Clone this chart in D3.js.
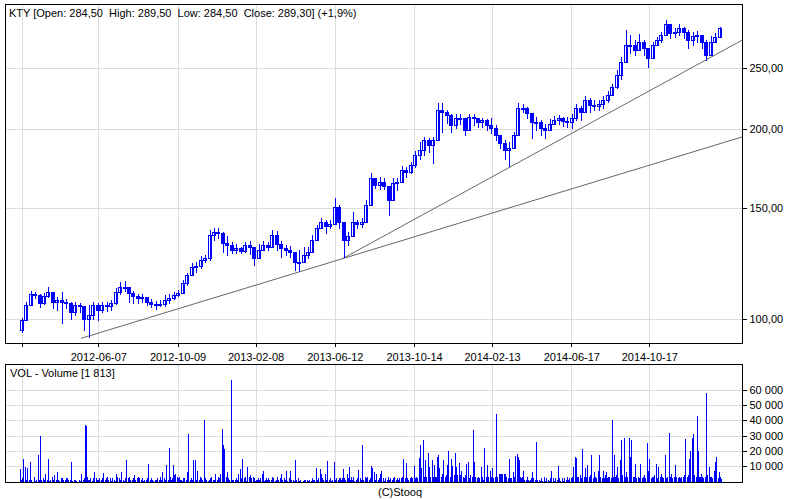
<!DOCTYPE html>
<html><head><meta charset="utf-8">
<script src="https://cdn.jsdelivr.net/npm/d3@7"></script>
<style>
body{margin:0;background:#fff}
text{font-family:"Liberation Sans",Arial,sans-serif;font-size:11px;fill:#000}
</style>
</head><body><svg id="c" width="800" height="500"></svg>
<script>
// ---- data (weekly candles) ----
const ticker = "KTY";
const firstOpen = 96.2;
const closes = [99.7,105.3,109.8,109.3,106.1,108.9,110.5,106.5,107.3,106.5,106.1,102.7,105.3,104.9,100.2,101.6,105.3,103.5,105.3,104.9,
106.1,110.5,112.5,112.5,110.1,108.9,108.1,108.5,106.5,105.7,105.3,105.7,107.3,108.1,109.3,110.1,114.2,117.5,121.0,121.5,
124.1,125.0,136.0,137.4,136.9,132.0,131.1,128.7,129.7,128.2,131.1,130.1,125.0,128.7,131.1,130.1,136.0,131.6,129.7,128.7,
127.8,123.2,123.2,126.4,127.8,133.5,139.4,142.6,140.5,141.5,150.6,142.6,133.5,135.5,142.6,141.5,142.6,151.7,167.3,163.1,
164.9,162.6,154.4,164.3,164.9,172.3,171.0,175.5,182.0,185.3,192.2,188.7,192.2,214.4,212.9,210.5,203.0,208.2,208.2,199.3,
209.0,208.2,205.2,206.7,203.0,200.8,195.7,190.1,185.3,186.7,195.7,216.0,216.0,212.0,205.2,205.2,200.8,199.3,203.7,206.7,
208.2,206.0,205.2,208.2,216.0,212.9,222.3,218.3,217.6,219.1,222.3,226.4,233.2,243.5,255.4,271.7,271.7,266.8,274.7,268.8,
259.1,271.7,276.7,281.8,293.3,283.8,284.9,289.0,284.9,276.7,280.7,281.8,274.7,262.0,274.7,279.7,289.3];
const highs = [100.5,106.5,110.9,110.5,109.8,110.1,112.5,109.3,108.5,110.5,107.7,106.5,106.5,106.1,103.5,105.3,106.5,106.1,106.5,106.5,
107.3,112.1,114.6,115.0,112.1,110.9,109.7,109.7,108.5,107.7,106.9,107.3,109.3,109.7,110.5,111.3,115.4,118.4,122.8,123.2,
125.9,126.4,138.4,139.4,139.4,137.4,135.5,132.5,131.6,130.1,132.5,133.0,129.7,131.6,133.0,132.5,138.4,137.9,133.0,131.1,
130.6,127.8,128.7,130.1,130.1,136.0,141.0,144.6,143.6,143.6,155.5,151.7,142.6,137.4,147.8,143.6,144.6,154.4,170.4,167.3,
167.9,167.3,161.9,167.3,167.3,174.8,174.2,177.4,184.6,190.5,194.3,193.6,194.3,220.0,220.0,214.4,211.3,211.3,211.3,206.7,
211.3,211.3,208.2,208.2,207.5,208.2,203.0,194.3,192.2,190.8,197.9,220.0,219.1,216.8,210.5,209.0,206.7,203.7,207.5,209.8,
210.5,209.0,209.0,211.3,219.1,217.6,225.6,223.9,222.3,222.3,225.6,229.8,235.7,248.0,260.0,286.9,281.8,276.7,282.8,276.7,
268.8,274.7,279.8,284.9,297.6,292.2,289.0,293.3,290.1,286.9,284.9,285.9,281.8,276.7,280.7,283.8,290.0];
const lows = [95.5,100.2,106.1,107.9,104.6,105.7,108.5,104.2,103.5,98.8,104.2,100.2,101.6,102.7,96.2,93.8,100.2,99.7,102.7,103.1,
103.5,105.7,109.7,110.9,106.5,106.1,106.1,106.5,105.3,104.6,103.9,104.9,104.9,106.1,107.7,108.9,110.1,113.3,117.5,118.8,
120.6,123.2,124.1,133.5,134.5,127.8,126.4,127.3,127.3,127.3,127.8,126.9,121.9,125.0,128.7,128.7,130.1,128.7,125.5,126.4,
125.5,119.7,119.3,123.2,125.0,129.2,133.5,140.0,136.9,139.4,142.1,139.4,125.5,131.1,135.5,139.4,140.0,142.6,153.3,161.4,
160.8,160.8,146.2,159.0,160.2,166.1,168.0,170.4,174.2,179.4,182.0,184.0,176.8,200.8,197.9,204.5,197.9,200.8,203.7,195.7,
203.7,203.0,201.5,201.5,199.3,197.2,192.2,186.7,179.4,174.8,188.7,199.3,212.9,208.2,193.6,199.3,195.7,193.6,199.3,203.7,
203.7,202.2,201.5,200.8,206.7,206.7,217.6,212.9,214.4,214.4,216.0,220.7,226.4,232.3,240.1,259.1,263.9,262.0,266.8,262.0,
250.8,260.1,271.7,274.7,284.9,278.7,279.7,281.8,278.7,268.8,271.7,274.7,268.8,257.2,270.7,274.7,280.7];
// daily volume (thousands of shares), Mon..Fri for each week
const volumesK = [
[8,1,2,1,15],[2,9.5,1,8.5,5.6],[1,12.6,0.5,1,0],[1,3,0.5,1,0.5],[17,1,30,4,1],[1,2,1,0.5,5],[1,14.6,1,0.5,1],[3,0.5,1,4,0.5],
[1,1,6,1,0.5],[2,1,2,0.5,1],[1,2,0.5,2,1],[0.5,1,12.6,0,0.5],[1,0,1,0.5,0],[0.5,1,0,0.5,5],[1,0.5,2,36.7,36],[3,1,0.5,1,2],
[0.5,1,2,5,6],[2,1,0.5,1,2],[1,2,0.5,1,5.6],[1,2,3,0.5,1],[2,1,0.5,1,2],[1,0.5,5,1,3],[0.5,2,1,0.5,6],[1,0.5,2,1,14],
[2,1,3,0.5,1],[1,2,0.5,4,1],[2,0.5,3,2,1],[1,2,2,0.5,1],[0.5,1,2,11.7,1],[1,0.5,2,1,0.5],[0.5,1,1,0.5,2],[1,0.5,3,1,6],
[1,2,0.5,1,10.6],[1,2,22,3,1],[2,10.6,1,4,5],[3,1,2,3,1],[1,0.5,2,1,2],[1,2,6,31,9.5],[1,2,0.5,1,14],[2,14,1,0.5,7],
[1,3,0.5,2,1],[40,1,2,0.5,1],[0.5,1,2,1,3],[1,0.5,1,2,5],[1,3,0.5,2,5],[2,34,23.7,21,17],[3,6,1,2,1],[66,3,1,0.5,1],
[1,0.5,2,1,5],[1,8,2,15,1],[2,3,1,0.5,9.5],[2,3,1,4,2],[3,1,2,0.5,1],[1,2,0.5,1,2],[5,1,7,0.5,1],[2,1,0.5,2,1],
[1,0.5,3,1,2],[0.5,1,2,3,1],[1,2,5,0.5,1],[2,1,7,1,0.5],[1,2,7,0.5,1],[1,0.5,2,14,1],[1,2,0.5,1,0.5],[0,0.5,1,0,1],
[1,0,0.5,1,0],[0.5,1,2,1,1],[9,6,1,2,1],[8,1,5,2,1],[2,5,1,2,13.5],[1,2,2,0.5,1],[2,12.8,1,0.5,2],[1,2,0.5,2,1],
[2,8,1,2,1],[5,1,2,9.5,1],[3,1,2,3,0.5],[1,2,0.5,1,7.8],[2,1,1,24,1],[3,1,2,0.5,3],[1,2,10,1,8.5],[2,6,1,5,2],
[1,2,5,1,7],[1,2,0.5,1,2],[1,3,0.5,1,2],[0.5,1,2,1,3],[1,0.5,2,1,2],[2,1,3,15,1],[2,1,12,2,1],[1,2,3,1,2],
[10,2,1,3,2],[15.4,3,24,2,8.5],[27,3,2,14,3],[18.7,3,9.5,2,3],[14,3,2,10.6,3],[3,16,3,17.6,8.5],[3,2,5,3,14],[3,4,10.6,3,19.8],
[3,15,3,10,3],[4,18.5,3,9.5,4],[3,12,4,3,7],[3,2,4,3,11.7],[12.8,3,2,4,2],[3,33.5,12.8,2,3],[2,1,3,2,1],[9.5,2,3,1,21.7],
[3,2,10.6,2,3],[7,3,2,8.5,2],[3,2,44,3,2],[5,5,4,5,5],[5,4,5,5,3],[2,14.8,3,2,2],[2,6,2,3,16.5],[18,5,16,14,3],
[2,3,7,2,1],[1,2,3,1,0.5],[1,2,6,1,2],[1,26,2,1,0.5],[1,0.5,2,1,0.5],[3,1,0.5,2,1],[1,0.5,1,2,7],[2,1,0.5,1,2],
[1,10,2,1,0.5],[2,1,0.5,1,2],[1,2,3,1,2],[2,1,3,9.5,3],[16,4,15.6,3,3],[3,4,2,5,21],[3,2,8.5,3,11],[2,3,4,17,3],
[2,6,2,3,2],[7,3,2,17,3],[2,3,7,2,4],[6,2,3,2,3],[2,9.5,40,3,17],[3,4,9.5,3,2],[14,3,27,4,3],[28.7,3,4,6,3],
[28.7,16,4,3,27],[3,3,4,11.7,2],[2,3,2,11.7,3],[2,3,2,4,2],[25,3,7,14.6,3],[2,3,3,2,4],[11.7,3,2,9.5,2],[3,5,2,3,2],
[17.6,3,2,3,2],[31.5,2,3,5,2],[3,2,10.6,3,2],[2,3,3,2,3],[3,2,3,4,27.6],[3,4,3,15,20],[3,28.7,22.6,31,4],[3,4,42.6,20,3],
[3,5,2,3,2],[3,58,42.6,4,3],[9.5,3,2,3,2],[7,3,13,4,16],[2,6,3,2,1.813]];
const lastBar = {open:284.50, high:289.50, low:284.50, close:289.30, changePct:1.9};
const lastVolume = 1813;
const priceTicks = [100,150,200,250];
const volTicksK = [10,20,30,40,50,60];
const dateTicks = ["2012-02-08","2012-06-07","2012-10-09","2013-02-08","2013-06-12","2013-10-14","2014-02-13","2014-06-17","2014-10-17"];
const trendLines = [
  {from:"2012-05-11", fromPrice:93.3, to:"2015-03-11", toPrice:194.3},
  {from:"2013-06-25", fromPrice:124.9, to:"2015-03-11", toPrice:276.4}
];

// ---- layout ----
const svg = d3.select("#c");
const L = 5, R = 742, mT = 4, mB = 343, vT = 364, vB = 482;
const parse = d3.utcParse("%Y-%m-%d");
const blue = "#0000ff";
const x = d3.scaleUtc().domain([parse("2012-01-13"), parse("2015-03-11")]).range([L, R]);
const yP = d3.scaleLog().domain([91.73, 315.4]).range([mB, mT]);
const yV = d3.scaleLinear().domain([0, 76.65]).range([481.5, vT]);
const weeks = d3.utcMonday.range(parse("2012-02-06"), parse("2015-02-07"));
const fmt2 = v => d3.format(".2f")(v).replace(".", ",");
const FONT = "Liberation Sans, Arial, sans-serif";

svg.append("rect").attr("width",800).attr("height",500).attr("fill","#fff");
const defs = svg.append("defs");
defs.append("clipPath").attr("id","clipM").append("rect").attr("x",L).attr("y",mT).attr("width",R-L).attr("height",mB-mT);
defs.append("clipPath").attr("id","clipV").append("rect").attr("x",L).attr("y",vT).attr("width",R-L).attr("height",vB-vT);

// grid
const grid = svg.append("g").attr("stroke","#dcdcdc").attr("shape-rendering","crispEdges");
dateTicks.forEach(d => {
  const xx = Math.round(x(parse(d))) + 0.5;
  grid.append("line").attr("x1",xx).attr("x2",xx).attr("y1",mT).attr("y2",mB);
  grid.append("line").attr("x1",xx).attr("x2",xx).attr("y1",vT).attr("y2",vB);
});
priceTicks.forEach(p => {
  const yy = Math.round(yP(p)) + 0.5;
  grid.append("line").attr("x1",L).attr("x2",R).attr("y1",yy).attr("y2",yy);
});
volTicksK.forEach(v => {
  const yy = Math.round(yV(v)) + 0.5;
  grid.append("line").attr("x1",L).attr("x2",R).attr("y1",yy).attr("y2",yy);
});

// trend lines
const tl = svg.append("g").attr("clip-path","url(#clipM)");
trendLines.forEach(t => {
  tl.append("line").attr("x1",x(parse(t.from))).attr("y1",yP(t.fromPrice))
    .attr("x2",x(parse(t.to))).attr("y2",yP(t.toPrice))
    .attr("stroke","#666").attr("stroke-width",1);
});

// candles
const cg = svg.append("g").attr("clip-path","url(#clipM)").attr("shape-rendering","crispEdges");
const n = Math.min(weeks.length, closes.length);
for (let i = 0; i < n; i++) {
  const o = i ? closes[i-1] : firstOpen, c = closes[i];
  const h = Math.max(highs[i], o, c), l = Math.min(lows[i], o, c);
  const cx = Math.round(x(d3.utcDay.offset(weeks[i], 2)));
  cg.append("line").attr("x1",cx+0.5).attr("x2",cx+0.5)
    .attr("y1",Math.round(yP(h))).attr("y2",Math.round(yP(l))+1).attr("stroke",blue);
  const y1 = Math.round(yP(Math.max(o,c))), y2 = Math.round(yP(Math.min(o,c)));
  cg.append("rect").attr("x",cx-1.5).attr("y",y1+0.5).attr("width",2).attr("height",Math.max(y2-y1,1))
    .attr("fill", c >= o ? "#fff" : blue).attr("stroke",blue);
  cg.append("line").attr("x1",cx+1.5).attr("x2",cx+1.5)
    .attr("y1",y1).attr("y2",Math.max(y2,y1+1)+1).attr("stroke",blue);
}

// volume
const vg = svg.append("g").attr("clip-path","url(#clipV)").attr("shape-rendering","crispEdges");
for (let i = 0; i < Math.min(weeks.length, volumesK.length); i++) {
  volumesK[i].forEach((v, j) => {
    if (!v) return;
    const xx = Math.round(x(d3.utcDay.offset(weeks[i], j)));
    const yy = Math.min(Math.round(yV(v)), vB - 1);
    vg.append("rect").attr("x",xx).attr("y",yy).attr("width",1).attr("height",vB-yy).attr("fill",blue);
  });
}

// borders
const bg = svg.append("g").attr("fill","none").attr("stroke","#000").attr("shape-rendering","crispEdges");
bg.append("rect").attr("x",L+0.5).attr("y",mT+0.5).attr("width",R-L).attr("height",mB-mT);
bg.append("rect").attr("x",L+0.5).attr("y",vT+0.5).attr("width",R-L).attr("height",vB-vT);

// price axis (right)
const pa = svg.append("g").attr("transform",`translate(${R+0.5},0)`)
  .call(d3.axisRight(yP).tickValues(priceTicks).tickSize(4).tickPadding(3).tickFormat(fmt2));
pa.select(".domain").remove();
pa.selectAll("line").attr("stroke","#000").attr("shape-rendering","crispEdges");
pa.selectAll("text").attr("font-family",FONT).attr("font-size",11).attr("fill","#000");

// volume axis (right)
const va = svg.append("g").attr("transform",`translate(${R+0.5},0)`)
  .call(d3.axisRight(yV).tickValues(volTicksK).tickSize(4).tickPadding(3)
    .tickFormat(v => d3.format(",")(v*1000).replace(/,/g," ")));
va.select(".domain").remove();
va.selectAll("line").attr("stroke","#000").attr("shape-rendering","crispEdges");
va.selectAll("text").attr("font-family",FONT).attr("font-size",11).attr("fill","#000");

// date axis
const da = svg.append("g").attr("transform",`translate(0,${mB+0.5})`)
  .call(d3.axisBottom(x).tickValues(dateTicks.map(parse)).tickSize(3).tickPadding(7).tickFormat(d3.utcFormat("%Y-%m-%d")));
da.select(".domain").remove();
da.selectAll("line").attr("stroke","#000").attr("shape-rendering","crispEdges");
da.selectAll("text").attr("font-family",FONT).attr("font-size",11).attr("fill","#000")
  .each(function(d){ const w = this.getComputedTextLength(); if (x(d) - w/2 < L) d3.select(this).remove(); });

// texts
svg.append("text").attr("x",9).attr("y",17).style("white-space","pre").attr("font-size",10.6)
  .text(`${ticker} [Open: ${fmt2(lastBar.open)}  High: ${fmt2(lastBar.high)}  Low: ${fmt2(lastBar.low)}  Close: ${fmt2(lastBar.close)}] (+${d3.format(".1f")(lastBar.changePct).replace(".",",")}%)`);
svg.append("text").attr("x",10).attr("y",377).style("white-space","pre")
  .text(`VOL - Volume [${d3.format(",")(lastVolume).replace(/,/g," ")}]`);
svg.append("text").attr("x",400).attr("y",496).attr("text-anchor","middle").text("(C)Stooq");
</script>
</body></html>
